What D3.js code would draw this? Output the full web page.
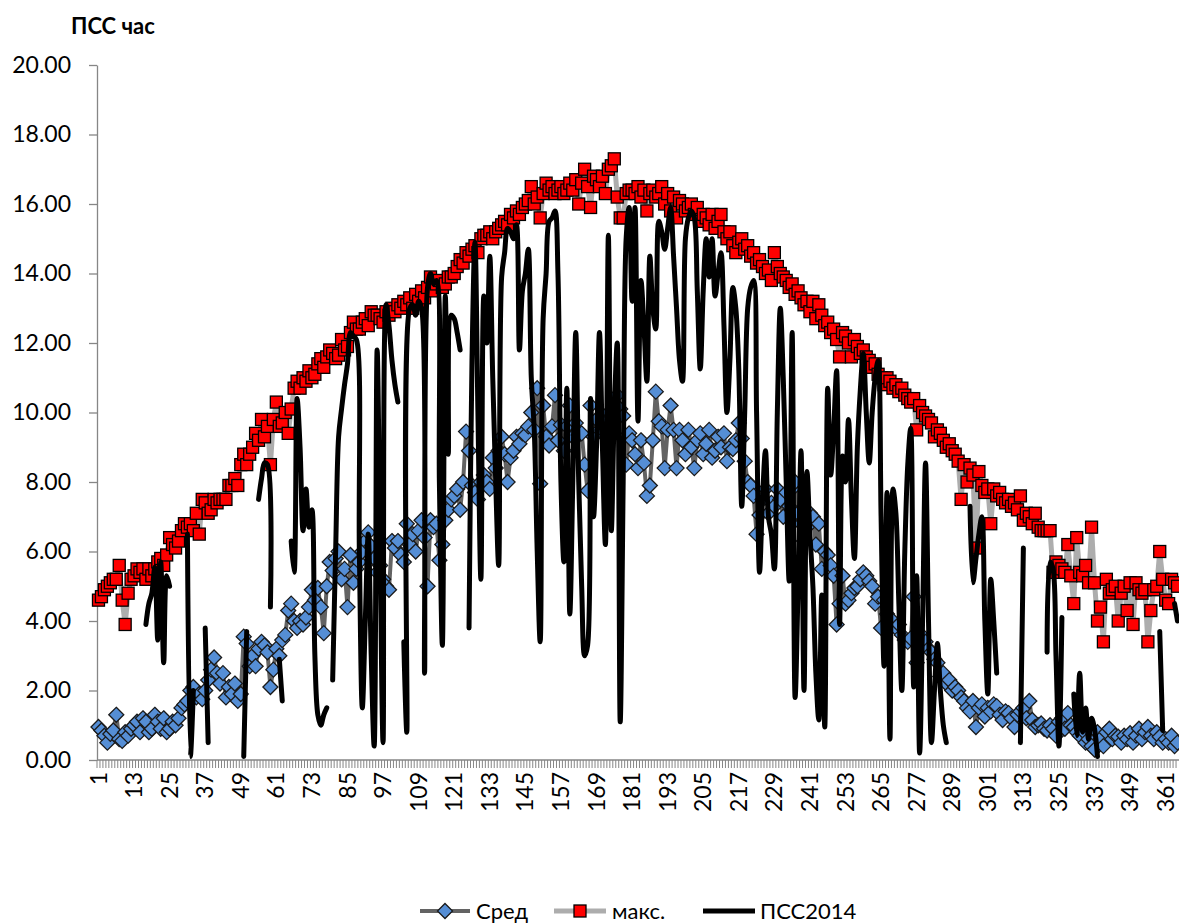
<!DOCTYPE html>
<html><head><meta charset="utf-8">
<script src="https://cdn.jsdelivr.net/npm/d3@7"></script>
<style>
body{margin:0;background:#fff;}
text{font-family:Lato,"Open Sans",sans-serif;}
</style>
</head><body>
<svg id="c" width="1179" height="924"></svg>
<script>
const days = d3.range(1, 366);
const seriesNames = ["Сред", "макс.", "ПСС2014"];
const yTicks = d3.range(0, 21, 2);
const xTickLabels = days.filter(d => (d - 1) % 12 === 0);

const avgVals = [
0.95,0.85,0.7,0.5,0.75,0.85,1.3,0.6,0.55,0.8,
0.7,0.9,1.0,1.1,0.8,1.2,1.1,0.8,0.9,1.3,
1.1,0.9,1.2,0.8,0.9,1.1,1.0,1.2,1.5,1.6,
1.7,2.0,2.1,1.8,1.9,1.75,2.0,2.3,2.6,2.95,
2.5,2.2,2.5,1.8,2.1,1.9,2.2,1.7,1.9,3.55,
3.35,2.7,3.0,2.7,3.2,3.4,3.3,3.1,2.1,2.6,
3.2,3.0,3.45,3.6,4.3,4.5,4.0,3.8,4.0,3.9,
4.1,4.4,4.9,4.6,4.95,4.4,3.65,5.0,5.7,5.45,
5.8,6.0,5.2,5.5,4.4,5.9,5.1,5.5,5.7,6.0,
6.3,6.55,6.15,5.8,5.4,5.6,5.2,5.0,4.9,6.3,
6.1,6.3,5.9,5.7,6.8,6.2,6.5,6.0,6.6,6.9,
6.4,5.0,6.9,6.7,6.8,5.75,6.2,6.9,7.2,7.5,
7.6,7.8,7.2,8.0,9.45,8.9,7.9,7.7,7.5,8.0,
8.2,8.0,7.8,8.7,8.4,8.9,9.3,8.8,8.0,8.7,
8.9,9.3,9.1,9.4,9.35,9.6,10.0,9.5,10.7,7.95,
10.2,9.3,9.05,9.6,10.5,9.2,9.65,8.9,9.6,10.2,
9.3,9.7,9.35,9.4,8.5,7.75,10.2,9.3,9.8,9.5,
9.5,9.9,9.3,9.9,10.0,10.5,10.1,9.9,8.5,9.4,
9.2,8.8,8.4,9.2,8.55,7.6,7.9,9.2,10.6,9.75,
9.6,8.4,9.5,10.2,9.5,8.4,9.5,9.2,8.8,9.5,
9.0,8.4,9.2,9.4,8.8,9.1,9.5,8.7,8.9,9.3,
9.0,9.4,8.6,9.0,8.95,9.2,9.7,9.25,8.6,8.0,
7.9,7.6,6.5,7.05,7.5,7.8,7.1,7.4,7.3,7.8,
7.5,7.0,7.7,7.3,7.8,8.0,7.1,6.8,6.3,6.7,
7.1,7.0,6.2,6.8,5.5,6.0,5.9,5.6,5.3,3.9,
4.5,5.3,4.5,4.6,4.8,4.95,5.0,5.2,5.4,5.3,
5.15,5.0,4.5,4.7,3.8,4.6,4.2,3.9,4.0,3.8,
3.9,3.6,3.45,3.4,3.5,4.7,2.8,3.65,3.3,3.4,
3.2,3.1,2.9,2.8,2.4,2.5,2.2,2.3,2.0,2.1,
2.0,1.8,1.7,1.5,1.4,1.7,0.95,1.5,1.6,1.25,
1.5,1.4,1.6,1.55,1.3,1.15,1.4,1.35,1.2,0.95,
1.3,1.4,1.5,1.2,1.7,1.15,0.95,1.0,1.05,0.9,
0.85,1.0,0.9,0.7,1.1,1.2,0.9,1.35,1.0,0.95,
0.8,0.7,0.85,0.5,0.6,0.4,0.3,0.8,0.6,0.4,
0.8,0.9,0.6,0.7,0.67,0.5,0.7,0.6,0.77,0.5,
0.7,0.9,0.6,0.8,0.95,0.7,0.6,0.8,0.67,0.5,
0.6,0.5,0.7,0.4,0.5
];

const maxVals = [
4.6,4.7,4.9,5.0,5.1,5.2,5.2,5.6,4.6,3.9,
4.8,5.2,5.3,5.5,5.4,5.5,5.2,5.5,5.3,5.5,
5.7,5.8,5.6,5.9,6.4,6.2,6.1,6.3,6.6,6.8,
6.7,6.8,6.6,7.1,6.5,7.5,7.4,7.1,7.2,7.5,
7.4,7.5,7.5,7.5,7.9,7.9,8.1,7.9,8.5,8.8,
8.5,8.8,9.0,9.4,9.2,9.8,9.3,9.6,8.5,9.8,
10.3,9.6,9.7,10.0,9.4,10.1,10.7,10.9,10.7,11.0,
10.9,11.2,11.0,11.1,11.4,11.55,11.3,11.6,11.8,11.7,
11.55,11.65,12.1,11.8,11.9,12.3,12.6,12.4,12.4,12.6,
12.7,12.5,12.9,12.8,12.8,12.7,12.6,12.9,12.8,13.0,
12.9,13.1,13.0,13.2,13.1,13.3,13.0,13.4,13.2,13.5,
13.3,13.6,13.9,13.5,13.7,13.8,13.6,13.7,13.9,13.9,
14.0,14.2,14.4,14.3,14.6,14.5,14.7,14.8,14.6,15.0,
15.1,15.1,15.2,15.0,15.2,15.3,15.4,15.5,15.4,15.7,
15.6,15.8,15.7,15.9,16.0,16.1,16.5,16.0,16.2,15.6,
16.3,16.6,16.4,16.5,16.3,16.4,16.5,16.3,16.4,16.6,
16.4,16.7,16.0,16.6,17.0,16.5,15.9,16.8,16.7,16.5,
16.8,16.3,17.0,17.1,17.3,16.2,15.6,15.6,16.3,16.4,
16.4,16.3,16.5,16.2,16.4,15.8,16.3,16.4,16.2,16.3,
16.5,16.0,16.3,15.8,16.2,15.6,16.1,16.0,15.8,15.9,
16.0,15.7,15.9,15.5,15.7,15.6,15.4,15.7,15.3,15.5,
15.7,15.2,15.0,15.2,14.8,14.6,14.9,15.0,14.7,14.8,
14.5,14.6,14.3,14.4,14.2,14.0,14.1,13.8,14.6,14.2,
14.0,13.9,13.8,13.6,13.7,13.4,13.5,13.3,13.1,13.2,
12.9,13.2,12.7,13.1,12.8,12.5,12.6,12.3,12.4,12.1,
11.6,12.3,12.2,12.0,11.6,12.1,11.9,11.7,11.8,11.6,
11.5,11.3,11.4,11.1,11.0,10.8,11.0,10.9,10.7,10.8,
10.6,10.7,10.5,10.4,10.3,10.4,9.5,10.2,10.0,9.9,
9.8,9.7,9.3,9.5,9.4,9.2,9.0,9.1,8.9,8.8,
8.6,7.5,8.5,8.0,8.4,8.2,6.1,8.3,7.9,7.7,
7.8,6.8,7.8,7.6,7.7,7.5,7.4,7.5,7.3,7.4,
7.2,7.6,6.9,7.1,7.0,6.8,7.1,6.7,6.6,6.6,
6.6,6.6,5.4,5.7,5.6,5.5,5.4,6.2,5.3,4.5,
6.4,5.4,5.3,5.6,5.1,6.7,5.1,4.0,4.4,3.4,
5.2,4.8,4.9,5.0,4.0,4.8,5.0,4.3,5.1,3.9,
5.1,4.9,4.8,4.9,3.4,4.3,4.9,5.0,6.0,5.2,
4.6,4.5,5.2,5.1,5.0
];

const n = null;
const pss2014 = [
n,n,n,n,n,n,n,n,n,n,
n,n,n,n,n,n,3.9,4.5,4.8,5.55,
3.45,5.7,2.8,5.3,5.0,n,n,n,n,n,
6.5,0.1,2.0,n,n,n,3.8,0.5,n,n,
n,n,n,n,n,n,n,n,n,0.1,
3.7,n,n,n,7.5,8.1,8.55,8.5,4.4,n,
n,2.9,1.7,n,n,6.3,5.4,10.4,9.0,6.6,
7.8,6.7,7.2,3.0,1.3,1.0,1.3,1.5,n,2.3,
6.0,9.3,10.1,10.8,11.4,12.3,12.2,12.1,6.0,1.5,
4.0,6.5,3.0,0.4,11.8,6.0,0.5,13.1,12.5,11.5,
10.8,10.3,n,3.4,0.8,13.0,13.1,12.8,13.2,13.0,
2.5,13.6,14.0,13.7,13.8,8.0,3.3,13.35,8.8,12.8,
12.7,12.3,11.8,n,n,3.8,11.5,14.9,10.0,5.2,
13.35,12.0,14.5,11.0,8.0,5.6,13.9,14.6,15.3,15.2,
15.0,15.4,11.8,13.5,14.0,14.7,11.0,9.5,6.0,3.4,
12.7,14.0,15.5,15.6,15.8,14.0,8.0,5.7,10.7,4.2,
8.0,12.3,8.0,5.0,3.0,3.3,10.4,7.0,9.0,12.3,
9.0,6.2,15.1,6.6,10.0,12.0,1.1,8.0,15.0,15.9,
13.2,15.9,9.75,13.8,12.5,10.9,14.5,13.0,12.4,15.5,
15.2,14.7,15.3,15.9,14.5,13.0,11.5,10.9,15.0,15.6,
15.8,15.6,13.5,11.25,13.5,15.0,13.9,15.0,13.35,14.0,
14.6,12.5,10.0,11.5,13.6,13.0,11.25,7.3,10.0,13.0,
13.6,13.8,10.0,5.4,7.5,8.9,7.0,6.5,5.5,10.0,
13.0,11.0,8.0,5.15,12.3,1.8,5.0,8.9,2.0,8.3,
6.5,5.0,2.5,1.15,4.75,0.95,10.7,8.2,9.5,11.2,
3.9,8.75,8.0,9.8,7.5,5.8,9.0,10.65,11.7,10.0,
8.55,10.0,11.0,11.5,7.0,2.7,7.7,0.6,7.8,7.1,
4.5,2.0,6.0,8.5,9.55,2.1,5.3,0.2,4.0,8.55,
4.0,0.5,2.0,3.35,2.0,1.0,0.5,n,n,n,
n,n,n,n,7.3,5.1,5.8,6.5,7.0,4.0,
1.9,5.2,4.0,2.5,n,n,n,n,n,n,
n,0.5,6.1,n,n,n,n,n,n,n,
3.1,5.7,5.5,3.0,0.4,4.1,n,n,n,1.9,
0.7,2.5,0.8,1.5,0.6,1.2,0.9,0.1,n,n,
n,n,n,n,n,n,n,n,n,n,
n,n,n,n,n,n,n,n,3.7,0.85,
n,n,n,4.5,4.0
];

const svg = d3.select("#c");
const x = d3.scaleBand().domain(days).range([97, 1179]);
const y = d3.scaleLinear().domain([0, 20]).range([760, 65]);
const cx = d => x(d) + x.bandwidth() / 2;
const axisColor = "#868686";

// title
svg.append("text").attr("x", 71).attr("y", 34).attr("font-size", 22).attr("font-weight", "bold").text("ПСС час");

// Y axis
const yAxis = svg.append("g").attr("transform", "translate(97,0)")
  .call(d3.axisLeft(y).tickValues(yTicks).tickFormat(d3.format(".2f")).tickSize(8).tickSizeOuter(0).tickPadding(18));
yAxis.select(".domain").attr("stroke", axisColor).attr("stroke-width", 1.3);
yAxis.selectAll(".tick line").attr("stroke", axisColor).attr("stroke-width", 1.3);
yAxis.selectAll("text").attr("font-size", 23).attr("fill", "#000").attr("font-family", "Lato");

// X axis: category boundary ticks
const xAxisG = svg.append("g");
xAxisG.selectAll("line.cat").data(days).enter().append("line")
  .attr("x1", d => x(d)).attr("x2", d => x(d)).attr("y1", 760).attr("y2", 768)
  .attr("stroke", axisColor).attr("stroke-width", 1);
xAxisG.append("line").attr("x1", 97).attr("x2", 1179).attr("y1", 760).attr("y2", 760)
  .attr("stroke", axisColor).attr("stroke-width", 1.3);
xAxisG.selectAll("text.lab").data(xTickLabels).enter().append("text")
  .attr("transform", d => `translate(${cx(d)},772) rotate(-90)`)
  .attr("text-anchor", "end").attr("dy", "0.35em").attr("font-size", 23).text(d => d);

const lineAvg = d3.line().x((v, i) => cx(days[i])).y(v => y(v));
const lineMax = d3.line().x((v, i) => cx(days[i])).y(v => y(v));
const linePss = d3.line().defined(v => v !== null).x((v, i) => cx(days[i])).y(v => y(v)).curve(d3.curveCatmullRom.alpha(0.5));

const diamond = "M0,-7.5L7.5,0L0,7.5L-7.5,0Z";

// Сред
svg.append("path").attr("d", lineAvg(avgVals)).attr("fill", "none").attr("stroke", "#636363").attr("stroke-width", 4).attr("stroke-linejoin", "round");
svg.append("g").selectAll("path").data(avgVals).enter().append("path")
  .attr("d", diamond).attr("transform", (v, i) => `translate(${cx(days[i])},${y(v)})`)
  .attr("fill", "#558ed5").attr("stroke", "#1a1a1a").attr("stroke-width", 1.3);

// макс.
svg.append("path").attr("d", lineMax(maxVals)).attr("fill", "none").attr("stroke", "#adadad").attr("stroke-width", 5).attr("stroke-linejoin", "round");
svg.append("g").selectAll("rect").data(maxVals).enter().append("rect")
  .attr("x", (v, i) => cx(days[i]) - 6).attr("y", v => y(v) - 6).attr("width", 12).attr("height", 12)
  .attr("fill", "#ff0000").attr("stroke", "#000").attr("stroke-width", 1.3);

// ПСС2014
svg.append("path").attr("d", linePss(pss2014)).attr("fill", "none").attr("stroke", "#000").attr("stroke-width", 5).attr("stroke-linejoin", "round").attr("stroke-linecap", "round");

// legend
const lg = svg.append("g").attr("font-size", 22);
const ly = 911;
lg.append("line").attr("x1", 420).attr("x2", 470).attr("y1", ly).attr("y2", ly).attr("stroke", "#636363").attr("stroke-width", 4);
lg.append("path").attr("d", diamond).attr("transform", `translate(445,${ly})`).attr("fill", "#558ed5").attr("stroke", "#1a1a1a").attr("stroke-width", 1.3);
lg.append("text").attr("x", 476).attr("y", ly).attr("dy", "0.35em").text(seriesNames[0]);
lg.append("line").attr("x1", 554).attr("x2", 606).attr("y1", ly).attr("y2", ly).attr("stroke", "#adadad").attr("stroke-width", 5);
lg.append("rect").attr("x", 574).attr("y", ly - 6).attr("width", 12).attr("height", 12).attr("fill", "#ff0000").attr("stroke", "#000").attr("stroke-width", 1.3);
lg.append("text").attr("x", 612).attr("y", ly).attr("dy", "0.35em").text(seriesNames[1]);
lg.append("line").attr("x1", 703).attr("x2", 755).attr("y1", ly).attr("y2", ly).attr("stroke", "#000").attr("stroke-width", 5);
lg.append("text").attr("x", 760).attr("y", ly).attr("dy", "0.35em").text(seriesNames[2]);
</script>
</body></html>
